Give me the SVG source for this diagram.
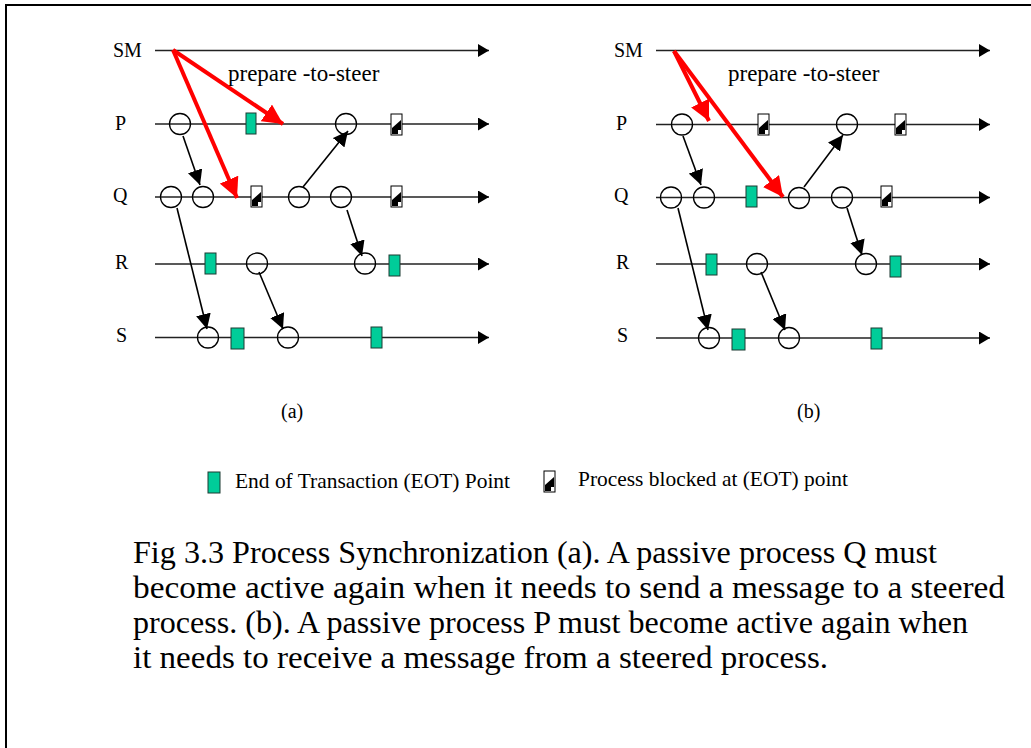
<svg xmlns="http://www.w3.org/2000/svg" width="1031" height="748" viewBox="0 0 1031 748">
<style>
  text { font-family: "Liberation Serif", "Times New Roman", serif; fill: #000; }
  .lbl { font-size: 20px; }
  .msg { font-size: 23px; }
  .sub { font-size: 20px; }
  .leg { font-size: 21px; }
  .cap { font-size: 32px; }
  .tl { stroke: #222; stroke-width: 1.5; fill: none; marker-end: url(#mTl); }
  .ev { fill: none; stroke: #000; stroke-width: 1.3; }
  .msgb { stroke: #000; stroke-width: 1.6; fill: none; marker-end: url(#mBk); }
  .msgr { stroke: #ff0000; stroke-width: 4; fill: none; marker-end: url(#mRd); }
  .eot { fill: #00cc99; stroke: #1c3b33; stroke-width: 1; }
  .blk { fill: #fff; stroke: #000; stroke-width: 1; }
</style>
<defs>
  <marker id="mTl" markerUnits="userSpaceOnUse" markerWidth="11" markerHeight="13" refX="11" refY="6.5" orient="auto">
    <path d="M0,0 L11,6.5 L0,13 z" fill="#000"/>
  </marker>
  <marker id="mBk" markerUnits="userSpaceOnUse" markerWidth="15" markerHeight="15" refX="15" refY="7.5" orient="auto">
    <path d="M0,0 L15,7.5 L0,15 z" fill="#000"/>
  </marker>
  <marker id="mRd" markerUnits="userSpaceOnUse" markerWidth="20" markerHeight="20" refX="20" refY="10" orient="auto">
    <path d="M0,0 L20,10 L0,20 z" fill="#ff0000"/>
  </marker>
  <g id="blkIcon">
    <rect class="blk" x="0" y="0" width="11" height="21"/>
    <path d="M1,20 L1,14 L10,6 L10,16 L7,16 L7,20 z" fill="#000"/>
  </g>
</defs>

<rect x="6" y="5" width="1100" height="1000" fill="#fff" stroke="#000" stroke-width="2"/>

<!-- Panel (a) -->
<g id="panel-a">
  <g id="a-labels">
    <text class="lbl" x="113" y="57">SM</text>
    <text class="lbl" x="115" y="130">P</text>
    <text class="lbl" x="113" y="202">Q</text>
    <text class="lbl" x="115" y="269">R</text>
    <text class="lbl" x="116" y="342">S</text>
  </g>
  <g id="a-timelines">
    <line class="tl" x1="155" y1="50.5" x2="489" y2="50.5"/>
    <line class="tl" x1="155" y1="124" x2="489" y2="124"/>
    <line class="tl" x1="155" y1="197" x2="489" y2="197"/>
    <line class="tl" x1="155" y1="264" x2="489" y2="264"/>
    <line class="tl" x1="155" y1="337.5" x2="489" y2="337.5"/>
  </g>
  <g id="a-events">
    <circle class="ev" cx="180" cy="124" r="10.5"/>
    <circle class="ev" cx="346" cy="124" r="10.5"/>
    <circle class="ev" cx="171" cy="197" r="10.5"/>
    <circle class="ev" cx="203" cy="197" r="10.5"/>
    <circle class="ev" cx="299" cy="197" r="10.5"/>
    <circle class="ev" cx="341" cy="197" r="10.5"/>
    <circle class="ev" cx="257" cy="263.5" r="10.5"/>
    <circle class="ev" cx="365" cy="263.5" r="10.5"/>
    <circle class="ev" cx="208" cy="337.5" r="10.5"/>
    <circle class="ev" cx="288" cy="337.5" r="10.5"/>
  </g>
  <g id="a-marks">
    <rect class="eot" x="246" y="113" width="10" height="21"/>
    <use href="#blkIcon" x="391" y="114"/>
    <use href="#blkIcon" x="251" y="186"/>
    <use href="#blkIcon" x="391" y="186"/>
    <rect class="eot" x="205" y="253" width="11" height="21"/>
    <rect class="eot" x="389" y="255" width="11" height="21"/>
    <rect class="eot" x="231" y="328" width="13" height="21"/>
    <rect class="eot" x="371" y="327" width="11" height="21"/>
  </g>
  <text class="msg" x="228" y="81">prepare -to-steer</text>
  <text class="sub" x="281" y="418">(a)</text>
</g>

<!-- Panel (b) -->
<g id="panel-b">
  <g id="b-labels">
    <text class="lbl" x="614" y="57">SM</text>
    <text class="lbl" x="616" y="130">P</text>
    <text class="lbl" x="614" y="202">Q</text>
    <text class="lbl" x="616" y="269">R</text>
    <text class="lbl" x="617" y="342">S</text>
  </g>
  <g id="b-timelines">
    <line class="tl" x1="656" y1="50.5" x2="990" y2="50.5"/>
    <line class="tl" x1="656" y1="124.5" x2="990" y2="124.5"/>
    <line class="tl" x1="656" y1="197.5" x2="990" y2="197.5"/>
    <line class="tl" x1="656" y1="264" x2="990" y2="264"/>
    <line class="tl" x1="656" y1="338" x2="990" y2="338"/>
  </g>
  <g id="b-events">
    <circle class="ev" cx="682" cy="124.5" r="10.5"/>
    <circle class="ev" cx="847" cy="124.5" r="10.5"/>
    <circle class="ev" cx="671" cy="197.5" r="10.5"/>
    <circle class="ev" cx="704" cy="197.5" r="10.5"/>
    <circle class="ev" cx="799" cy="198" r="10.5"/>
    <circle class="ev" cx="842" cy="197.5" r="10.5"/>
    <circle class="ev" cx="757" cy="264" r="10.5"/>
    <circle class="ev" cx="866" cy="264" r="10.5"/>
    <circle class="ev" cx="709" cy="338" r="10.5"/>
    <circle class="ev" cx="789" cy="338" r="10.5"/>
  </g>
  <g id="b-marks">
    <use href="#blkIcon" x="758" y="114"/>
    <use href="#blkIcon" x="895" y="114"/>
    <rect class="eot" x="746" y="186" width="11" height="21"/>
    <use href="#blkIcon" x="881" y="186"/>
    <rect class="eot" x="706" y="254" width="11" height="21"/>
    <rect class="eot" x="890" y="256" width="11" height="21"/>
    <rect class="eot" x="732" y="329" width="13" height="21"/>
    <rect class="eot" x="871" y="328" width="11" height="21"/>
  </g>
  <text class="msg" x="728" y="81">prepare -to-steer</text>
  <text class="sub" x="797" y="418">(b)</text>
</g>

<!-- Connectors -->
<g id="connectors">
  <line class="msgr" x1="173" y1="50" x2="283" y2="124"/>
  <line class="msgr" x1="173" y1="50" x2="237" y2="198"/>
  <line class="msgb" x1="183" y1="136" x2="200" y2="185"/>
  <line class="msgb" x1="303" y1="187" x2="348" y2="131"/>
  <line class="msgb" x1="177" y1="208" x2="207" y2="329"/>
  <line class="msgb" x1="347" y1="210" x2="362" y2="256"/>
  <line class="msgb" x1="259" y1="272" x2="283" y2="329"/>

  <line class="msgr" x1="674" y1="51" x2="709" y2="121"/>
  <line class="msgr" x1="674" y1="51" x2="783" y2="197"/>
  <line class="msgb" x1="683" y1="136" x2="701" y2="185"/>
  <line class="msgb" x1="804" y1="187" x2="843" y2="135"/>
  <line class="msgb" x1="678" y1="208" x2="708" y2="330"/>
  <line class="msgb" x1="847" y1="208" x2="862" y2="255"/>
  <line class="msgb" x1="761" y1="272" x2="785" y2="330"/>
</g>

<!-- Legend -->
<g id="legend">
  <rect class="eot" x="208" y="472" width="12" height="21"/>
  <text class="leg" x="235" y="488" textLength="275" lengthAdjust="spacingAndGlyphs">End of Transaction (EOT) Point</text>
  <use href="#blkIcon" x="544" y="471"/>
  <text class="leg" x="578" y="486" textLength="270" lengthAdjust="spacingAndGlyphs">Process blocked at (EOT) point</text>
</g>

<!-- Caption -->
<g id="caption">
  <text class="cap" x="133" y="563" textLength="804" lengthAdjust="spacingAndGlyphs">Fig 3.3 Process Synchronization (a). A passive process Q must</text>
  <text class="cap" x="133" y="598" textLength="872" lengthAdjust="spacingAndGlyphs">become active again when it needs to send a message to a steered</text>
  <text class="cap" x="133" y="633" textLength="835" lengthAdjust="spacingAndGlyphs">process. (b). A passive process P must become active again when</text>
  <text class="cap" x="133" y="668" textLength="695" lengthAdjust="spacingAndGlyphs">it needs to receive a message from a steered process.</text>
</g>
</svg>
